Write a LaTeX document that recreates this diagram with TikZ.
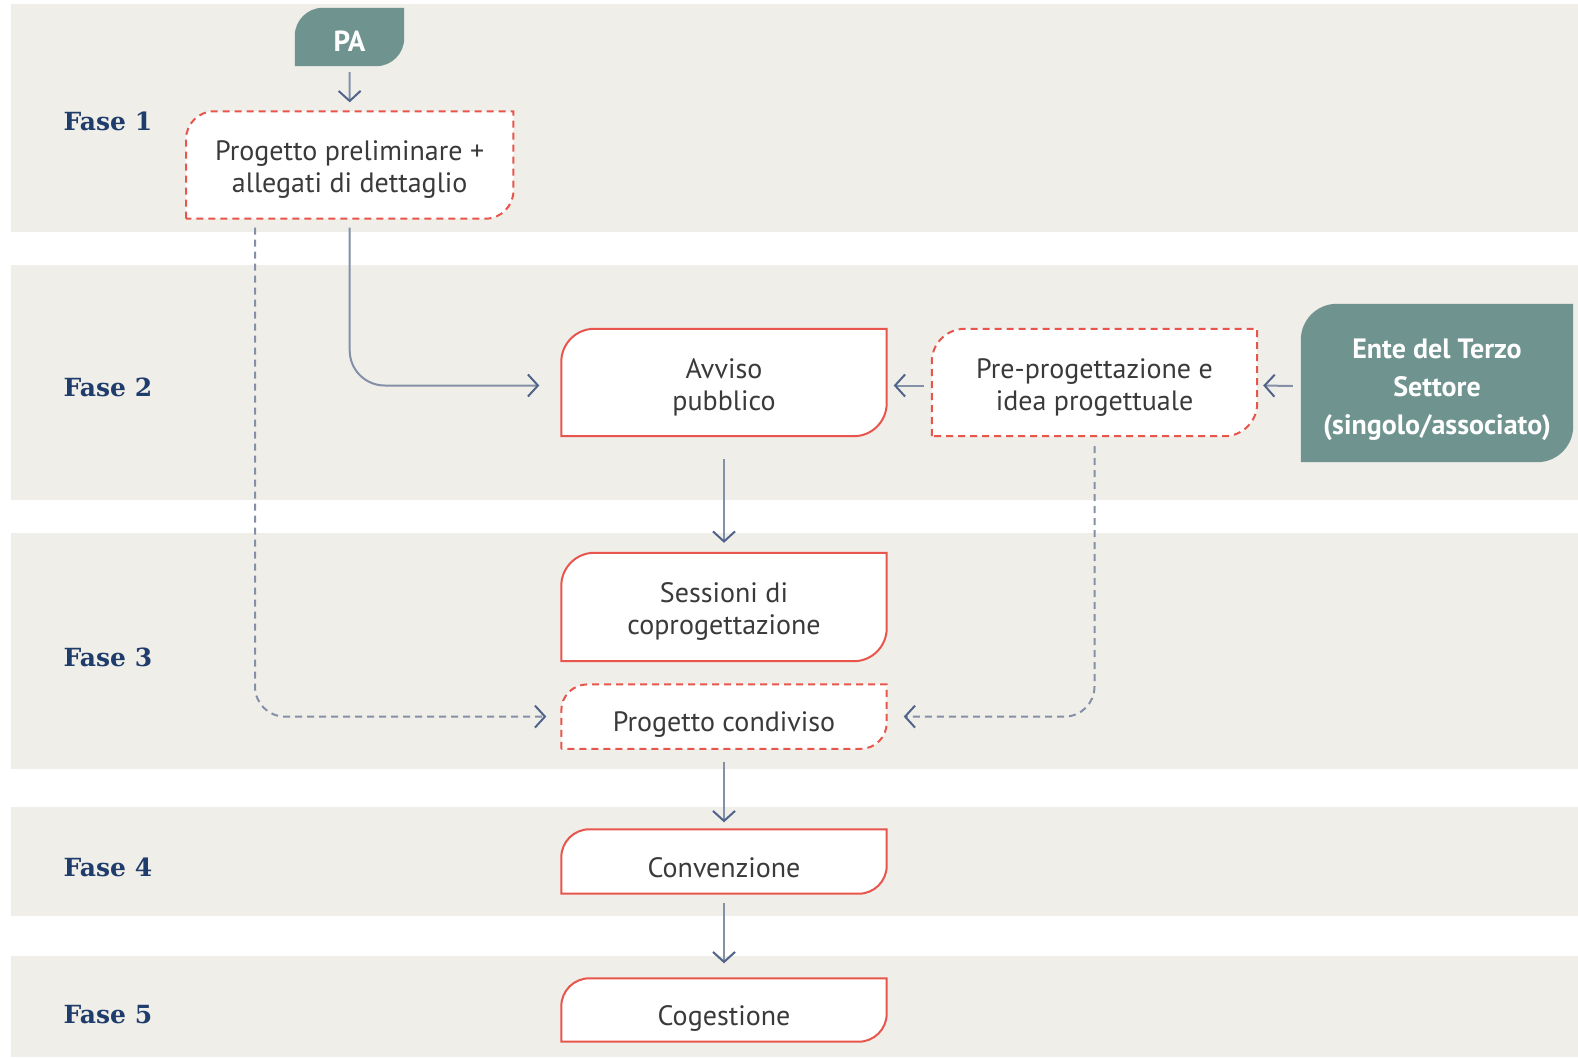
\documentclass[tikz,border=0pt]{standalone}
\usepackage{fontspec}
\usetikzlibrary{arrows.meta,calc}
\newfontfamily\boxfont{PT Sans}
\newfontfamily\fasefont{DejaVu Serif}
\definecolor{bandc}{HTML}{F0EEE8}
\definecolor{tealc}{HTML}{6F948F}
\definecolor{redc}{HTML}{E8554C}
\definecolor{navyc}{HTML}{1F3D6C}
\definecolor{linec}{HTML}{8390A8}
\definecolor{tipc}{HTML}{50648A}
\definecolor{txtc}{HTML}{3A3A3A}
\pgfdeclarelayer{bg}\pgfdeclarelayer{mid}\pgfsetlayers{bg,mid,main}
\newcommand\leafshape[3]{\path[#3] (#1.south west) -- ([yshift=-#2pt]#1.north west) arc[start angle=180,end angle=90,radius=#2pt] -- (#1.north east) -- ([yshift=#2pt]#1.south east) arc[start angle=0,end angle=-90,radius=#2pt] -- cycle;}
\newcommand\bx[2]{\raisebox{#1}[\height][\depth]{\begin{tabular}{@{}c@{}}#2\end{tabular}}}
\begin{document}
\begin{tikzpicture}[x=1pt,y=1pt,
  boxtext/.style={text=txtc, font=\boxfont\fontsize{28}{32}\selectfont, inner sep=0pt},
  whitetext/.style={text=white, font=\boxfont\bfseries\fontsize{28}{38}\selectfont, inner sep=0pt},
  fase/.style={anchor=west, text=navyc, font=\fasefont\bfseries\fontsize{25}{30}\selectfont},
  arr/.style={draw=linec, line width=2pt, -{Straight Barb[length=10pt,width=22pt,line width=2pt,color=tipc]}},
  darr/.style={arr, dash pattern=on 7pt off 5pt},
  solidleaf/.style={fill=white, draw=redc, line width=2pt},
  dashleaf/.style={fill=white, draw=redc, line width=2pt, dash pattern=on 7pt off 5pt},
  tealleaf/.style={fill=tealc}]
\useasboundingbox (0,0) rectangle (1578,-1057);
\begin{pgfonlayer}{bg}
\fill[white] (0,0) rectangle (1578,-1057);
\fill[bandc] (11,-4) rectangle (1578,-232);
\fill[bandc] (11,-265) rectangle (1578,-500);
\fill[bandc] (11,-533) rectangle (1578,-769);
\fill[bandc] (11,-807) rectangle (1578,-916);
\fill[bandc] (11,-956) rectangle (1578,-1057);
\end{pgfonlayer}
% phase labels
\node[fase] (f1) at (60,-121) {Fase 1};
\node[fase] (f2) at (60,-387) {Fase 2};
\node[fase] (f3) at (60,-657) {Fase 3};
\node[fase] (f4) at (60,-867) {Fase 4};
\node[fase] (f5) at (60,-1015) {Fase 5};
% nodes
\node[whitetext, font=\boxfont\bfseries\fontsize{29}{34}\selectfont, minimum width=109pt, minimum height=58pt] (pa) at (349.5,-37) {\bx{-7.4pt}{PA}};
\node[boxtext, minimum width=327pt, minimum height=107pt] (prog) at (349.7,-165) {\bx{-5.4pt}{Progetto preliminare +\\allegati di dettaglio}};
\node[boxtext, minimum width=325pt, minimum height=107pt] (avviso) at (724,-382.5) {\bx{-5.4pt}{Avviso\\pubblico}};
\node[boxtext, minimum width=325pt, minimum height=107pt] (pre) at (1094.5,-382.5) {\bx{-5.4pt}{Pre-progettazione e\\idea progettuale}};
\node[whitetext, minimum width=272pt, minimum height=158pt] (ente) at (1437,-383) {\bx{-5.7pt}{Ente del Terzo\\Settore\\(singolo/associato)}};
\node[boxtext, minimum width=325pt, minimum height=108pt] (sess) at (724,-607) {\bx{-5.4pt}{Sessioni di\\coprogettazione}};
\node[boxtext, minimum width=325pt, minimum height=64pt] (cond) at (724,-716.6) {\bx{-8.4pt}{Progetto condiviso}};
\node[boxtext, minimum width=325pt, minimum height=64pt] (conv) at (724,-861.5) {\bx{-9.4pt}{Convenzione}};
\node[boxtext, minimum width=325pt, minimum height=63pt] (coge) at (724,-1010) {\bx{-9pt}{Cogestione}};
\begin{pgfonlayer}{mid}
\leafshape{pa}{28}{tealleaf}
\leafshape{ente}{36}{tealleaf}
\leafshape{prog}{28}{dashleaf}
\leafshape{avviso}{33}{solidleaf}
\leafshape{pre}{33}{dashleaf}
\leafshape{sess}{33}{solidleaf}
\leafshape{cond}{26}{dashleaf}
\leafshape{conv}{28}{solidleaf}
\leafshape{coge}{28}{solidleaf}
\end{pgfonlayer}
% connectors
\draw[arr] ([yshift=-6pt]pa.south) -- ([yshift=9pt]prog.north);
\draw[arr, rounded corners=35pt] ([yshift=-9pt]prog.south) |- ([xshift=-22pt,yshift=-3pt]avviso.west);
\draw[darr, rounded corners=30pt] ([xshift=69pt,yshift=-9pt]prog.south west) |- ([xshift=-15pt]cond.west);
\draw[darr, rounded corners=30pt] ([yshift=-10pt]pre.south) |- ([xshift=17pt]cond.east);
\draw[arr] ([xshift=-8pt,yshift=-3pt]pre.west) -- ([xshift=7pt,yshift=-3pt]avviso.east);
\draw[arr] ([xshift=-8pt,yshift=-3pt]ente.west) -- ([xshift=6pt,yshift=-3pt]pre.east);
\draw[arr] ([yshift=-23pt]avviso.south) -- ([yshift=10pt]sess.north);
\draw[arr] ([yshift=-13pt]cond.south) -- ([yshift=7pt]conv.north);
\draw[arr] ([yshift=-9pt]conv.south) -- ([yshift=15pt]coge.north);
\end{tikzpicture}
\end{document}
